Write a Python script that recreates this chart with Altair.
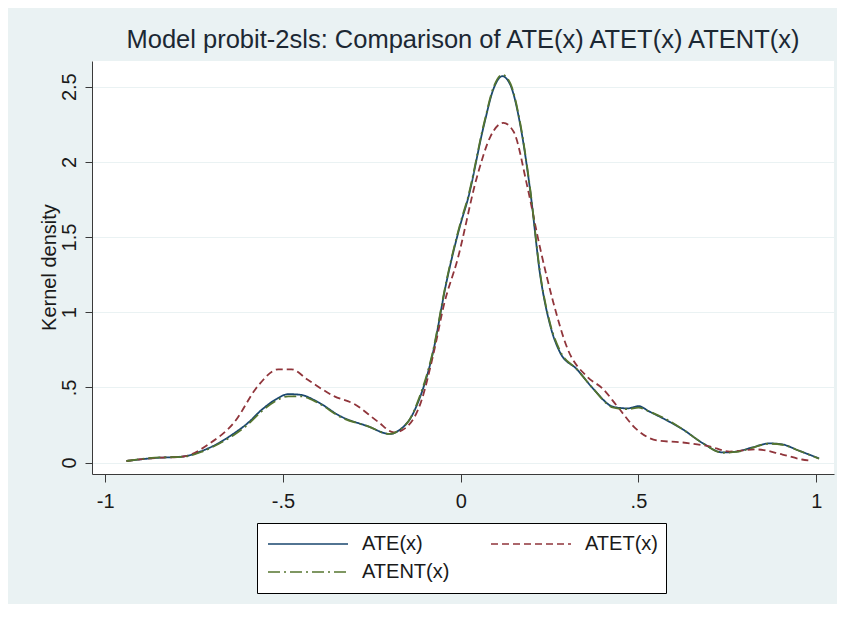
import altair as alt
import pandas as pd

# ---- data ----
SERIES = ["ATE(x)", "ATET(x)", "ATENT(x)"]
COLORS = ["#1a476f", "#90353b", "#55752f"]
DASHES = [[1, 0], [7, 4], [12, 4, 2, 4]]

ATE_X = [-0.94, -0.86, -0.78, -0.73, -0.68, -0.64, -0.60, -0.56, -0.52, -0.485, -0.45, -0.40,
         -0.34, -0.26, -0.20, -0.17, -0.14, -0.12, -0.08, -0.04, 0.00, 0.02, 0.065, 0.093,
         0.117, 0.14, 0.168, 0.196, 0.224, 0.252, 0.28, 0.327, 0.373, 0.43, 0.47, 0.50, 0.53,
         0.58, 0.625, 0.68, 0.737, 0.776, 0.82, 0.868, 0.905, 0.95, 1.008]
ATE_Y = [0.01, 0.03, 0.04, 0.075, 0.13, 0.19, 0.26, 0.35, 0.42, 0.455, 0.45, 0.40,
         0.31, 0.24, 0.19, 0.22, 0.30, 0.40, 0.71, 1.20, 1.59, 1.75, 2.24, 2.49,
         2.57, 2.51, 2.24, 1.80, 1.24, 0.91, 0.73, 0.62, 0.49, 0.37, 0.36, 0.375, 0.34,
         0.28, 0.22, 0.13, 0.067, 0.073, 0.10, 0.127, 0.12, 0.08, 0.027]

ATET_X = [-0.94, -0.86, -0.78, -0.71, -0.636, -0.57, -0.513, -0.476, -0.43, -0.355, -0.30,
          -0.232, -0.188, -0.15, -0.112, -0.075, -0.047, -0.009, 0.047, 0.084, 0.12, 0.149,
          0.187, 0.224, 0.26, 0.30, 0.356, 0.40, 0.44, 0.495, 0.552, 0.625, 0.70, 0.756,
          0.832, 0.905, 0.96, 0.985]
ATET_Y = [0.01, 0.03, 0.04, 0.12, 0.27, 0.51, 0.62, 0.62, 0.55, 0.44, 0.39,
          0.27, 0.20, 0.24, 0.40, 0.74, 1.05, 1.35, 1.91, 2.17, 2.26, 2.20,
          1.84, 1.42, 1.07, 0.76, 0.57, 0.49, 0.375, 0.22, 0.147, 0.133, 0.107, 0.073,
          0.087, 0.053, 0.02, 0.012]

ATENT_X = ATE_X
ATENT_Y = [0.01, 0.032, 0.038, 0.07, 0.125, 0.18, 0.25, 0.34, 0.41, 0.44, 0.44, 0.395,
           0.305, 0.24, 0.19, 0.22, 0.30, 0.41, 0.72, 1.21, 1.60, 1.76, 2.25, 2.50,
           2.58, 2.52, 2.25, 1.81, 1.25, 0.92, 0.74, 0.62, 0.49, 0.365, 0.355, 0.365, 0.34,
           0.285, 0.22, 0.13, 0.065, 0.07, 0.098, 0.125, 0.118, 0.08, 0.025]

X_TICKS = [-1, -0.5, 0, 0.5, 1]
Y_TICKS = [0, 0.5, 1, 1.5, 2, 2.5]

frames = []
for name, xs, ys in [(SERIES[0], ATE_X, ATE_Y), (SERIES[1], ATET_X, ATET_Y),
                     (SERIES[2], ATENT_X, ATENT_Y)]:
    frames.append(pd.DataFrame({"x": xs, "y": ys, "series": name}))
df = pd.concat(frames, ignore_index=True)
df["idx"] = range(len(df))

FONT = "Liberation Sans"
TXT = "#1a1a1a"
AX = "#3a3a3a"
BG = "#eaf2f3"

label_expr = ("datum.value == 0.5 ? '.5' : datum.value == -0.5 ? '-.5' : "
              "datum.value == -1 ? '-1' : format(datum.value, '')")

legend = alt.Legend(title=None, orient="none", legendX=165, legendY=462,
                    direction="horizontal", columns=2, columnPadding=38, rowPadding=2,
                    values=SERIES,
                    symbolType="stroke", symbolSize=6400,
                    symbolStrokeWidth=1.6, clipHeight=26,
                    labelFontSize=20, labelFont=FONT, labelColor=TXT,
                    labelOffset=13, padding=8, symbolOffset=2,
                    strokeColor="black", fillColor="white", cornerRadius=0)

chart = alt.Chart(df).mark_line(strokeWidth=1.8, interpolate="monotone").encode(
    x=alt.X("x:Q",
            scale=alt.Scale(domain=[-1.037, 1.050], nice=False, zero=False),
            axis=alt.Axis(title=None, values=X_TICKS, labelExpr=label_expr, grid=False,
                          tickSize=8, labelPadding=9, labelFontSize=20, labelFont=FONT,
                          labelColor=TXT, domainColor=AX, tickColor=AX, labelFlush=False)),
    y=alt.Y("y:Q",
            scale=alt.Scale(domain=[-0.0765, 2.671], nice=False, zero=False),
            axis=alt.Axis(title="Kernel density", values=Y_TICKS, labelExpr=label_expr,
                          grid=True, gridColor=BG, gridWidth=1.2,
                          tickSize=7, labelPadding=10, labelAngle=270, labelAlign="center",
                          labelBaseline="alphabetic", labelFontSize=20, labelFont=FONT,
                          labelColor=TXT, domainColor=AX, tickColor=AX, labelFlush=False,
                          titleFont=FONT, titleFontSize=20, titleFontWeight="normal",
                          titleColor=TXT, titleAngle=270, titleAlign="center",
                          titleBaseline="alphabetic", titleX=-37, titleY=206)),
    color=alt.Color("series:N", sort=SERIES,
                    scale=alt.Scale(domain=SERIES, range=COLORS),
                    legend=legend),
    strokeDash=alt.StrokeDash("series:N", sort=SERIES,
                              scale=alt.Scale(domain=SERIES, range=DASHES),
                              legend=legend),
    order=alt.Order("idx:Q"),
).properties(
    width=742,
    height=413,
    autosize=alt.AutoSizeParams(type="none"),
    padding={"left": 84, "top": 53, "right": 3, "bottom": 130},
    background=BG,
    title=alt.TitleParams("Model probit-2sls: Comparison of ATE(x) ATET(x) ATENT(x)",
                          font=FONT, fontSize=25.5, fontWeight="normal", color="#1c2833",
                          anchor="middle", baseline="alphabetic", offset=12, dy=24),
).configure_view(stroke=None, fill="white")

chart.save("out.html", embed_options={"renderer": "svg", "actions": False})
